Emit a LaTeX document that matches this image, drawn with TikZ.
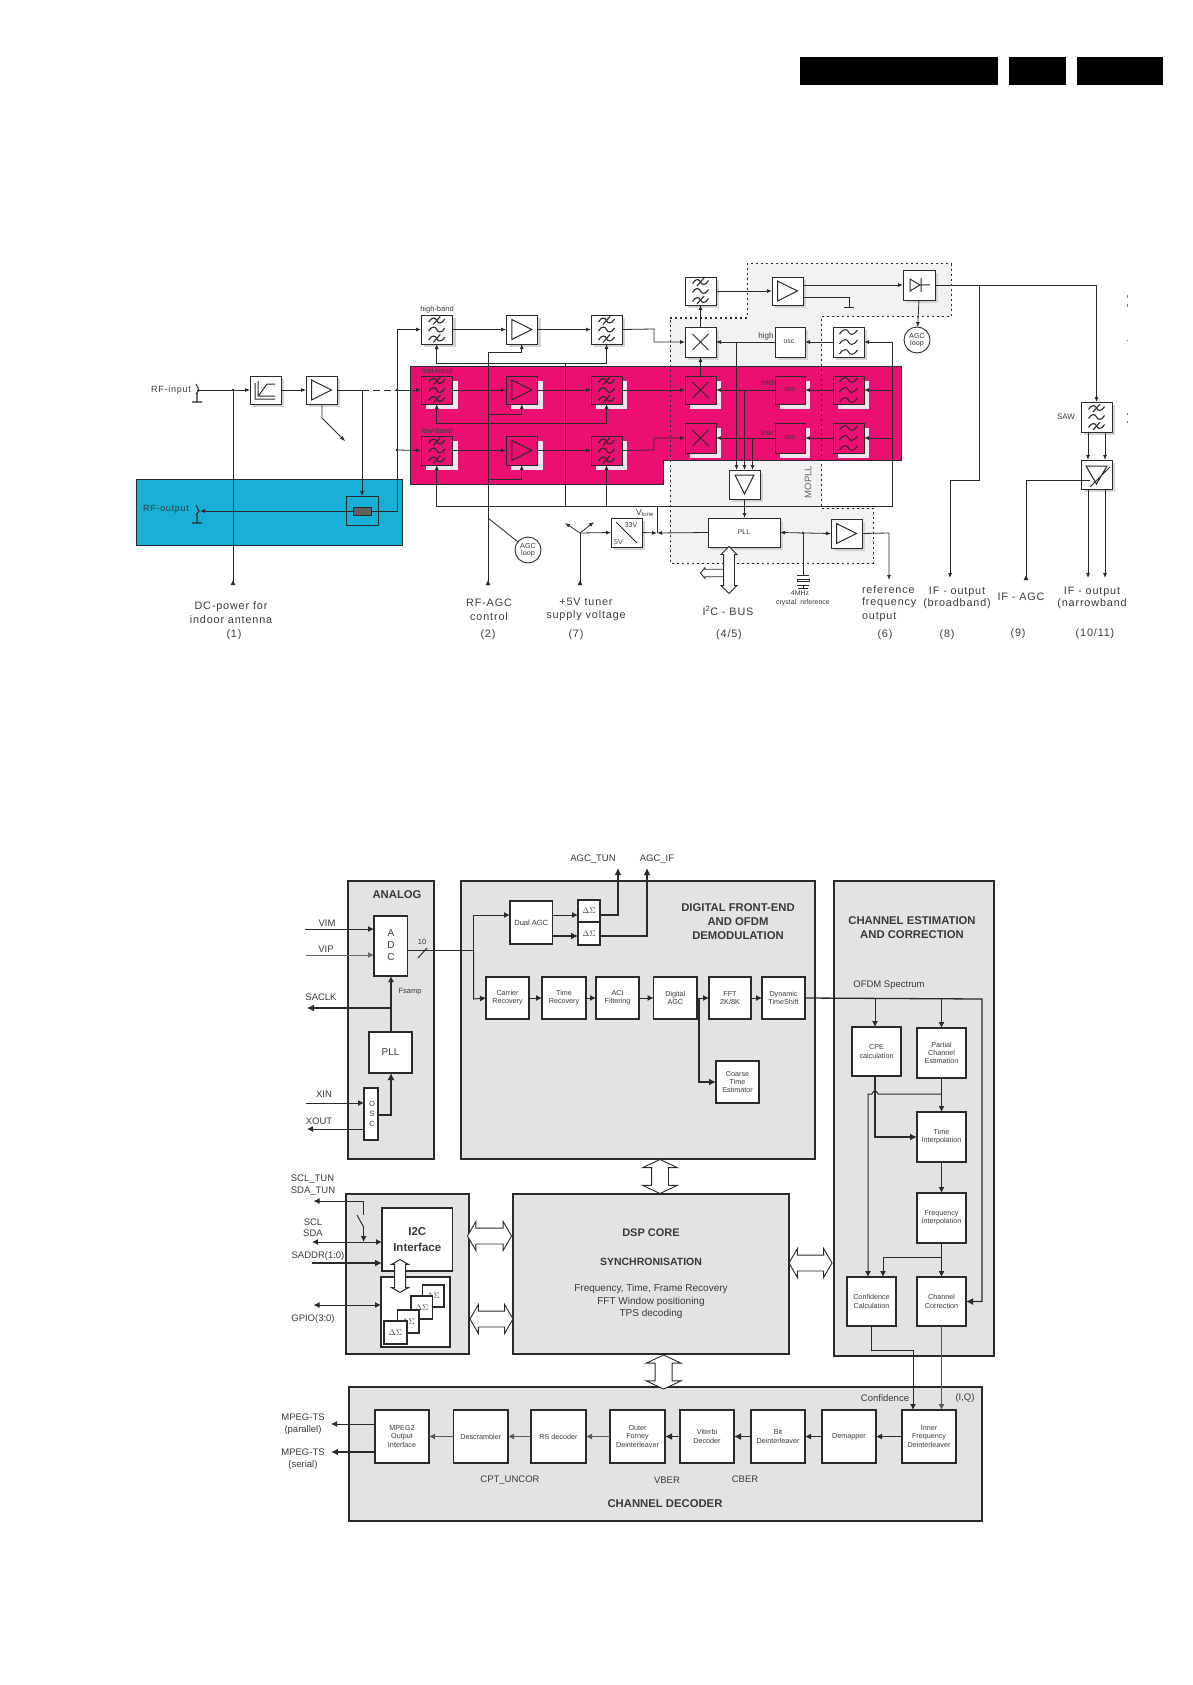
\documentclass[tikz,border=0pt]{standalone}
\usepackage{fontspec}
\setmainfont{Liberation Sans}
\newfontfamily\widefont[LetterSpace=8]{Liberation Sans}
\usetikzlibrary{arrows.meta,shapes.arrows,shadows,calc}
\definecolor{ink}{HTML}{2A2A2A}
\definecolor{txt}{HTML}{3A3A3A}
\definecolor{hot}{HTML}{EA0F70}
\definecolor{sky}{HTML}{17AFD6}
\definecolor{pale}{HTML}{F1F2F3}
\definecolor{panel}{HTML}{E1E3E5}
\definecolor{shadeA}{HTML}{D4D4D6}
\definecolor{shadeB}{HTML}{EDE4EC}
\newcommand\bx[7]{\node[#6,minimum width={(#4-(#2))*1pt},minimum height={(#5-(#3))*1pt}] (#1) at ({(#2+#4)/2},{(#3+#5)/2}) {#7};}
\newcommand\fs[1]{\fontsize{#1}{#1}\selectfont}
\tikzset{
 x=1pt,y=-1pt,
 every node/.style={inner sep=0pt,outer sep=0pt,text=txt},
 ln/.style={draw=ink,line width=.8pt},
 ar/.style={ln,-{Latex[length=5pt,width=4pt]}},
 arb/.style={ln,{Latex[length=5pt,width=4pt]}-{Latex[length=5pt,width=4pt]}},
 tipup/.style={ln,-{Latex[length=5pt,width=5pt,reversed]}},
 tbox/.style={draw=ink,line width=.9pt,fill=white,align=center,font=\fs{7},drop shadow={shadow xshift=3pt,shadow yshift=-3pt,fill=shadeA,opacity=1}},
 pbox/.style={draw=ink,line width=.9pt,fill=hot,align=center,font=\fs{7},drop shadow={shadow xshift=5pt,shadow yshift=-5pt,fill=shadeB,opacity=1}},
 lab/.style={font=\widefont\fs{10.8},align=center},
 small/.style={font=\fs{7},align=center},
 panelbox/.style={draw=ink,line width=1.5pt,fill=panel},
 wb/.style={draw=ink,line width=1.2pt,fill=white,align=center,font=\fs{7.2}},
 wbt/.style={wb,line width=1.7pt},
 capt/.style={font=\fs{9.5},align=center},
 headb/.style={font=\bfseries\fs{11.3},align=center},
 bl/.style={draw=ink,line width=1pt,-{Latex[length=6pt,width=6pt]}},
 blb/.style={draw=ink,line width=1pt,{Latex[length=6pt,width=6pt]}-{Latex[length=6pt,width=6pt]}},
 blk/.style={draw=ink,line width=1.8pt,-{Latex[length=7pt,width=7pt]}},
 bn/.style={draw=ink,line width=1pt},
 hollow/.style={double arrow,draw=ink,fill=white,line width=.9pt,inner ysep=7.5pt,inner xsep=0pt,double arrow head extend=6.5pt,double arrow tip angle=120},
 hollowv/.style={double arrow,draw=ink,fill=white,line width=.9pt,inner ysep=8pt,inner xsep=0pt,double arrow head extend=9pt,double arrow tip angle=130,rotate=90},
 filtx/.pic={
  \foreach \q/\s in {-9/1,0/0,9/1}{
   \draw[ink,line width=1.1pt] (-8,\q+1.5) .. controls (-5,\q-4) and (-1,\q-3) .. (0,\q) .. controls (1,\q+3) and (5,\q+4) .. (8,\q-1.5);
   \ifnum\s=1 \draw[ink,line width=1.1pt] (-3.5,\q+4) -- (3.5,\q-4);\fi
  }},
 filtt/.pic={
  \foreach \q in {-10,0,10}{
   \draw[ink,line width=1pt] (-9,\q+2) .. controls (-5,\q-4) and (-1,\q-3) .. (0,\q) .. controls (1,\q+3) and (5,\q+4) .. (9,\q-2);
  }},
 ampR/.pic={\draw[ink,line width=1pt] (-10,-10) -- (10,0) -- (-10,10) -- cycle;},
 cross/.pic={\draw[ink,line width=1pt] (-8,-8) -- (8,8) (-8,8) -- (8,-8);},
 conn/.pic={\draw[ink,line width=1.1pt] (-1,-6) -- (2,0) -- (-1,4) (0,3) -- (0,12) (-5,12) -- (5,12);},
 dot/.pic={\fill[ink] (0,0) circle (1.3);},
}
\begin{document}
\begin{tikzpicture}
\useasboundingbox (0,0) rectangle (1192,1685);
\fill[white] (0,0) rectangle (1192,1685);
% header bars
\fill[black] (800,57) rectangle (998,85);
\fill[black] (1009,57) rectangle (1066,85);
\fill[black] (1077,57) rectangle (1163,85);

% ---------- TUNER ----------
\fill[pale] (670,318) -- (747,318) -- (747,264) -- (951,264) -- (951,317) -- (821,317) -- (821,508) -- (873,508) -- (873,563) -- (670,563) -- cycle;
\fill[sky] (136,479) rectangle (402,545);
\draw[ink,line width=.8pt] (136,479) rectangle (402,545);
\fill[hot] (410,366) -- (901,366) -- (901,460) -- (663,460) -- (663,484) -- (410,484) -- cycle;
\draw[ink,line width=.8pt] (410,366) -- (901,366) -- (901,460) -- (663,460) -- (663,484) -- (410,484) -- cycle;
\draw[ink,line width=1pt,dash pattern=on 2pt off 3pt] (670,318) -- (747,318) -- (747,264) -- (951,264) -- (951,317) -- (821,317) -- (821,508) -- (873,508) -- (873,563) -- (670,563) -- cycle;

% boxes
\bx{lim}{250}{376}{281}{404}{tbox}{}
\bx{ampin}{306}{376}{337}{404}{tbox}{}
\bx{coup}{346}{496}{378}{525}{draw=ink,line width=.9pt}{}
\bx{coupin}{353}{507}{371}{515}{draw=ink,line width=.8pt,fill=gray!75!black}{}
\foreach \nm/\xa/\xb/\typ in {fa/421/452.5/f,am/506/537.5/a,fc/591/622/f}{
  \bx{\nm h}{\xa}{315}{\xb}{344}{tbox}{}
  \bx{\nm m}{\xa}{376}{\xb}{404}{pbox}{}
  \bx{\nm l}{\xa}{436}{\xb}{465}{pbox}{}
}
\foreach \nm in {fah,fam,fal,fch,fcm,fcl}{\pic at (\nm) {filtx};}
\foreach \nm in {amh,amm,aml}{\pic at (\nm) {ampR};}
\pic at (ampin) {ampR};
\draw[ink,line width=1pt] (255,383) -- (255,399) -- (275,399) (259,395) -- (267,384) -- (275,384) (258,381) -- (258,396) -- (275,396);
\bx{xh}{685}{327}{716}{357}{tbox}{}
\bx{xm}{685}{376}{716}{404}{pbox}{}
\bx{xl}{685}{423}{716}{453}{pbox}{}
\foreach \nm in {xh,xm,xl}{\pic at (\nm) {cross};}
\bx{ftop}{685}{277}{716}{305}{tbox}{}
\pic at (ftop) {filtx};
\bx{ampt}{772}{277}{803}{305}{tbox}{}
\pic at (ampt) {ampR};
\bx{diode}{903}{270}{935}{300}{tbox}{}
\draw[ink,line width=1pt] (910,279) -- (920,285) -- (910,291) -- cycle (921,278) -- (921,292) (921,285) -- (930,285);
\bx{osch}{775}{327}{805}{357}{tbox}{osc.}
\bx{oscm}{775}{376}{805}{404}{pbox}{osc}
\bx{oscl}{775}{423}{805}{453}{pbox}{osc}
\bx{tfh}{833}{327}{864}{357}{tbox}{}
\bx{tfm}{833}{376}{864}{404}{pbox}{}
\bx{tfl}{833}{423}{864}{453}{pbox}{}
\foreach \nm in {tfh,tfm,tfl}{\pic at (\nm) {filtt};}
\bx{saw}{1081}{402}{1112}{432}{tbox}{}
\pic at (saw) {filtx};
\bx{vga}{1081}{460}{1112}{489}{tbox}{}
\draw[ink,line width=1pt] (1086,466) -- (1107,466) -- (1096.5,484) -- cycle (1090,487) -- (1110,467);
\bx{tri}{729}{470}{760}{499}{tbox}{}
\draw[ink,line width=1pt] (735,475) -- (754,475) -- (744.5,494) -- cycle;
\bx{pll}{708}{518}{780}{547}{tbox}{PLL}
\bx{ampref}{831}{519}{862}{548}{tbox}{}
\pic at (ampref) {ampR};
\bx{conv}{611}{518}{642}{547}{tbox}{}
\draw[ink,line width=1pt] (616,522) -- (637,543);
\node[small] (t33) at (631,525) {33V};
\node[small] (t5) at (618.5,542) {5V};
\node[draw=ink,line width=.9pt,circle,minimum size=26pt,fill=white,align=center,font=\fs{7.2}] (loopa) at (528,550) {AGC\\[0pt]loop};
\node[draw=ink,line width=.9pt,circle,minimum size=26pt,fill=white,align=center,font=\fs{7.2}] (loopb) at (917,340) {AGC\\[0pt]loop};

% input chain
\coordinate (rfin) at (197,390);
\coordinate (j1) at (233,390);
\coordinate (dcend) at (233,585);
\coordinate (tap) at (362,390);
\coordinate (dash) at (397,390);
\coordinate (bus) at (397,511);
\coordinate (rfout) at (200,511);
\pic at (rfin) {conn};
\pic at (197,511) {conn};
\draw[ar] (rfin) -- (lim.west);
\draw[ar] (lim.east) -- (ampin.west);
\draw[ln] (ampin.east) -- (tap);
\draw[ln,dash pattern=on 7pt off 4pt] (tap) -- (dash);
\draw[ar] (dash) -- (fam.west);
\draw[ar] (tap) -- (coup.north);
\draw[tipup] (j1) -- (dcend);
\pic at (j1) {dot};
\pic at (dash) {dot};
\draw[ar] (coupin.west) -- (rfout);
\draw[ar] (coupin.east) -- (bus) |- (fah.west);
\coordinate (busl) at (397,450);
\draw[ar] (busl) -- (fal.west);
\pic at (busl) {dot};
\coordinate (tapA) at (322,404);
\coordinate (tapB) at (322,418);
\coordinate (tapC) at (345,441);
\draw[ar] (tapA) -- (tapB) -- (tapC);
% rows
\foreach \r in {h,m,l}{
  \draw[ar] (fa\r.east) -- (am\r.west);
  \draw[ar] (am\r.east) -- (fc\r.west);
}
\coordinate (kh) at (654,329);
\coordinate (kl) at (654,450);
\coordinate (kh2) at (654,342);
\coordinate (kl2) at (654,438);
\draw[ar] (fch.east) -- (kh) -- (kh2) -- (xh.west);
\draw[ar] (fcm.east) -- (xm.west);
\draw[ar] (fcl.east) -- (kl) -- (kl2) -- (xl.west);
% tuning lines
\coordinate (cth) at (565,363);
\coordinate (ctm) at (565,423);
\coordinate (ctl) at (565,506);
\draw[ln] (cth) -- (ctl);
\draw[ar] (cth) -| (fah.south);
\draw[ar] (cth) -| (fch.south);
\draw[ar] (ctm) -| (fam.south);
\draw[ar] (ctm) -| (fcm.south);
\draw[ar] (ctl) -| (fal.south);
\draw[ar] (ctl) -| (fcl.south);
\coordinate (tur) at (892,506);
\coordinate (tuh) at (892,342);
\coordinate (tum) at (892,390);
\coordinate (tul) at (892,438);
\draw[ar] (ctl) -- (tur) -- (tuh) -- (tfh.east);
\draw[ar] (tum) -- (tfm.east);
\draw[ar] (tul) -- (tfl.east);
\foreach \r in {h,m,l}{
  \draw[ar] (tf\r.west) -- (osc\r.east);
  \draw[ar] (osc\r.west) -- (x\r.east);
}
% rf agc
\coordinate (agcb) at (488,585);
\coordinate (agct) at (488,352);
\coordinate (agcm) at (488,414);
\coordinate (agcl) at (488,479);
\coordinate (agcj) at (488,518);
\draw[tipup] (agct) -- (agcb);
\draw[ar] (agct) -| (amh.south);
\draw[ar] (agcm) -| (amm.south);
\draw[ar] (agcl) -| (aml.south);
\draw[ln] (agcj) -- (loopa);
% 5V
\coordinate (yb) at (580,585);
\coordinate (yc) at (580,533);
\coordinate (ya) at (565,523);
\coordinate (yd) at (594,522);
\draw[tipup] (yc) -- (yb);
\draw[ar] (yc) -- (ya);
\draw[ar] (yc) -- (yd);
\draw[ar] (yc) -- (conv.west);
\coordinate (vt) at (657,533);
\coordinate (vtt) at (657,506);
\draw[ln] (vt) -- (vtt);
\draw[ar] (conv.east) -- (vt);
\draw[ar] (pll.west) -- (vt);
% mixer chain
\draw[ar] (xm.north) -- (xh.south);
\draw[ar] (xh.north) -- (ftop.south);
\draw[ar] (ftop.east) -- (ampt.west);
\coordinate (ao) at (803,285);
\coordinate (ag) at (803,297);
\coordinate (ag2) at (849,297);
\coordinate (ag3) at (849,307);
\coordinate (ag4) at (844,307);
\coordinate (ag5) at (854,307);
\draw[ar] (ao) -- (diode.west);
\draw[ln] (ag) -- (ag2) -- (ag3) (ag4) -- (ag5);
\draw[ar] (diode.south) -- (loopb);
\coordinate (ifr) at (1096.5,285);
\coordinate (ifj) at (979,285);
\coordinate (ifk) at (979,480);
\coordinate (ifl) at (950,480);
\coordinate (ife) at (950,578);
\draw[ar] (diode.east) -- (ifr) -- (saw.north);
\draw[ar] (ifj) -- (ifk) -- (ifl) -- (ife);
% triangle inputs
\foreach \cx/\cy/\n in {736.5/342/a,744.5/390/b,752.5/438/c}{
  \coordinate (ti\n) at (\cx,\cy);
  \coordinate (te\n) at (\cx,470);
  \draw[ar] (ti\n) -- (te\n);
}
\draw[ar] (tri.south) -- (tri.south |- pll.north);
\draw[arb] (pll.east) -- (ampref.west);
\coordinate (xj) at (803,533);
\coordinate (xc) at (803,575);
\pic at (xj) {dot};
\draw[ln] (xj) -- (xc);
\draw[ink,line width=.9pt] (797,575) -- (809,575) (797,579) rectangle (809,581) (797,585) -- (809,585) (803,585) -- (803,588) (798,588) -- (808,588);
\coordinate (rf1) at (889,533);
\coordinate (rf2) at (889,580);
\draw[ar] (ampref.east) -- (rf1) -- (rf2);
% VGA
\coordinate (s1) at (1088,432); \coordinate (s2) at (1088,460);
\coordinate (s3) at (1105,432); \coordinate (s4) at (1105,460);
\coordinate (s5) at (1088,489); \coordinate (s6) at (1088,578);
\coordinate (s7) at (1105,489); \coordinate (s8) at (1105,578);
\draw[ar] (s1) -- (s2); \draw[ar] (s3) -- (s4);
\draw[ar] (s5) -- (s6); \draw[ar] (s7) -- (s8);
\coordinate (ia) at (1090,480);
\coordinate (ib) at (1026,480);
\coordinate (ic) at (1026,580);
\draw[tipup] (ia) -- (ib) -- (ic);
% I2C bus
\node[single arrow,draw=ink,fill=white,line width=.9pt,inner ysep=3.3pt,inner xsep=0pt,minimum height=28pt,single arrow head extend=1.7pt,single arrow tip angle=100,rotate=180] (i2cs) at (716,573) {};
\node[double arrow,draw=ink,fill=white,line width=.9pt,inner ysep=5pt,inner xsep=0pt,minimum height=47pt,double arrow head extend=2.5pt,double arrow tip angle=90,rotate=90] (i2cb) at (729,570) {};
% tuner labels
\node[small,font=\fs{7.5}] (lhb) at (437,310) {high-band};
\node[small,font=\fs{7.5}] (lmb) at (437,371) {mid-band};
\node[small,font=\fs{7.5}] (llb) at (437,431) {low-band};
\node[lab,font=\widefont\fs{9}] (lri) at (171,390) {RF-input};
\node[lab,font=\widefont\fs{9}] (lro) at (166,509) {RF-output};
\node[small,font=\fs{8}] (lh) at (766,336) {high};
\node[small,font=\fs{8}] (lm) at (767,383) {mid};
\node[small,font=\fs{8}] (ll) at (767,433) {low};
\node[small,font=\fs{8}] (lsaw) at (1066,417) {SAW};
\node[small,font=\fs{8.5}] (lvt) at (645,513) {V\textsubscript{tune}};
\node[small,font=\fs{9.5},rotate=90,text=gray!80!black] (lmo) at (808,482) {MOPLL};
\node[small] (l4a) at (800,593) {4MHz};
\node[small] (l4b) at (803,603) {crystal\ \ reference};
\node[lab] (ldc) at (231,612.5) {DC-power for\\[3pt]indoor antenna};
\node[lab] (l1) at (234,635) {(1)};
\node[lab] (lagc) at (489,609.5) {RF-AGC\\[3pt]control};
\node[lab] (l2) at (488,635) {(2)};
\node[lab] (l5v) at (586,609.5) {+5V tuner\\[3pt]supply voltage};
\node[lab] (l7) at (576,635) {(7)};
\node[lab] (li2c) at (728,611) {I\textsuperscript{2}C - BUS};
\node[lab] (l45) at (729,635) {(4/5)};
\node[lab,align=left,anchor=west] (lref) at (862,604) {reference\\[1pt]frequency\\[3pt]output};
\node[lab] (l6) at (885,635) {(6)};
\node[lab] (lifb) at (957,597.5) {IF - output\\[1pt](broadband)};
\node[lab] (l8) at (947,635) {(8)};
\node[lab] (lifa) at (1021,597) {IF - AGC};
\node[lab] (l9) at (1018,634) {(9)};
\node[lab] (lifn) at (1092,597.5) {IF - output\\[1pt](narrowband};
\node[lab] (l10) at (1095,634) {(10/11)};
\draw[gray,line width=.7pt] (1127,295) -- (1127,298) (1127,304) -- (1127,307) (1127,340) -- (1127,341) (1127,413) -- (1127,415) (1127,421) -- (1127,423);

% ---------- DEMOD ----------
\bx{pana}{348}{881}{434}{1159}{panelbox}{}
\bx{pdf}{461}{881}{815}{1159}{panelbox}{}
\bx{pch}{834}{881}{994}{1356}{panelbox}{}
\bx{pi2c}{346}{1194}{469}{1354}{panelbox}{}
\bx{pdsp}{513}{1194}{789}{1354}{panelbox}{}
\bx{pdec}{349}{1387}{982}{1521}{panelbox}{}
\node[headb] (hana) at (397,895) {ANALOG};
\node[headb] (hdf) at (738,921.5) {DIGITAL FRONT-END\\[3pt]AND OFDM\\[3pt]DEMODULATION};
\node[headb] (hch) at (912,927.5) {CHANNEL ESTIMATION\\[3pt]AND CORRECTION};
\node[headb] (hdc) at (665,1504) {CHANNEL DECODER};
\node[capt] (cofdm) at (889,985) {OFDM Spectrum};
% analog
\bx{adc}{374}{916}{407.5}{976}{wb}{}
\node[font=\fs{10}] (ta) at (391,933) {A};
\node[font=\fs{10}] (td) at (391,945) {D};
\node[font=\fs{10}] (tc) at (391,957) {C};
\bx{apll}{369}{1032}{412}{1073}{wb,font=\fs{10}}{PLL}
\bx{osc}{364}{1088}{378}{1140}{wb}{}
\node[font=\fs{7.5}] (to) at (372,1104) {O};
\node[font=\fs{7.5}] (ts) at (372,1114) {S};
\node[font=\fs{7.5}] (tc2) at (372,1124) {C};
\node[capt] (cvim) at (327,923) {VIM};
\node[capt] (cvip) at (326,949) {VIP};
\node[capt] (csa) at (321,997) {SACLK};
\node[capt] (cxi) at (324,1094) {XIN};
\node[capt] (cxo) at (319,1121) {XOUT};
\node[font=\fs{7.5}] (cfs) at (410,992) {Fsamp};
\node[font=\fs{7.5}] (c10) at (422,942) {10};
\coordinate (vim) at (305,929); \coordinate (vima) at (374,929);
\coordinate (vip) at (306,955); \coordinate (vipa) at (374,955);
\draw[bl] (vim) -- (vima);
\draw[bl,draw=gray!80!black] (vip) -- (vipa);
\coordinate (adco) at (407.5,950);
\coordinate (spl) at (473.6,950);
\coordinate (s10a) at (418,958); \coordinate (s10b) at (427,948);
\draw[bn] (s10a) -- (s10b);
\coordinate (sacj) at (391,1008); \coordinate (sace) at (307,1008);
\draw[bl,line width=1.3pt] (apll.north -| sacj) -- (adc.south -| sacj);
\draw[blk] (sacj) -- (sace);
\coordinate (oscr) at (378,1115);
\coordinate (oscu) at (391,1115);
\draw[blk] (oscr) -- (oscu) -- (apll.south -| oscu);
\coordinate (xi) at (306,1103); \coordinate (xia) at (364,1103);
\coordinate (xoa) at (364,1129); \coordinate (xo) at (307,1129);
\draw[bl] (xi) -- (xia);
\draw[bl] (xoa) -- (xo);
% dfe
\bx{dagc}{510}{901}{552.5}{944}{wb,font=\fs{7.5}}{Dual AGC}
\bx{dsa}{578}{900}{600}{922}{wb,font=\fs{8}}{$\Delta\Sigma$}
\bx{dsb}{578}{922}{600}{945}{wb,font=\fs{8}}{$\Delta\Sigma$}
\foreach \nm/\xa/\xb/\tx in {bcr/486/529/{Carrier\\[1pt]Recovery},btr/542/586/{Time\\[1pt]Recovery},baf/596/639/{ACI\\[1pt]Filtering},bda/653.6/697/{Digital\\[1pt]AGC},bfft/709/751/{FFT\\[1pt]2K/8K},bdyn/762/805/{Dynamic\\[1pt]TimeShift}}{
  \bx{\nm}{\xa}{977}{\xb}{1019}{wb,line width=1.4pt}{\tx}
}
\bx{bct}{716}{1061}{759}{1103}{wb,line width=1.4pt}{Coarse\\[1pt]Time\\[1pt]Estimator}
\draw[bn] (adco) -- (spl);
\coordinate (spt) at (473.6,915);
\coordinate (spb) at (473.6,999);
\coordinate (dagcw) at (510,915);
\draw[bl] (spl) -- (spt) -- (dagcw);
\draw[bl] (spl) -- (spb) -- (bcr.west);
\draw[bl] (bcr.east) -- (btr.west);
\draw[bl] (btr.east) -- (baf.west);
\draw[bl] (baf.east) -- (bda.west);
\draw[bl] (bda.east) -- (bfft.west);
\draw[bl] (bfft.east) -- (bdyn.west);
\coordinate (ctj) at (699,999);
\coordinate (ctb) at (699,1082);
\draw[blk,line width=1.3pt] (ctj) -- (ctb) -- (bct.west);
\coordinate (da1) at (552.5,915); \coordinate (da1e) at (578,915);
\coordinate (da2) at (552.5,936); \coordinate (da2e) at (578,936);
\draw[bl] (da1) -- (da1e);
\draw[blk] (da2) -- (da2e);
\coordinate (ds1) at (600,915); \coordinate (ds1k) at (618,915); \coordinate (tun) at (618,868);
\coordinate (ds2) at (600,936); \coordinate (ds2k) at (647,936); \coordinate (ifa) at (647,868);
\draw[blk] (ds1) -- (ds1k) -- (tun);
\draw[blk] (ds2) -- (ds2k) -- (ifa);
\node[capt] (cat) at (593,859) {AGC\_TUN};
\node[capt] (cai) at (657,859) {AGC\_IF};
% channel
\bx{bcpe}{852}{1027}{901}{1076}{wbt}{CPE\\[1pt]calculation}
\bx{bpc}{917}{1028}{966}{1078}{wb}{Partial\\[1pt]Channel\\[1pt]Estimation}
\bx{bti}{917}{1112}{966}{1162}{wb}{Time\\[1pt]Interpolation}
\bx{bfi}{917}{1193}{966}{1243}{wb}{Frequency\\[1pt]Interpolation}
\bx{bcc}{847}{1277}{896}{1326}{wbt}{Confidence\\[1pt]Calculation}
\bx{bco}{917}{1277}{966}{1326}{wbt}{Channel\\[1pt]Correction}
\coordinate (sp1) at (982,999);
\coordinate (sp2) at (982,1301.5);
\draw[blk,line width=1.3pt] (bdyn.east) -- (sp1) -- (sp2) -- (bco.east);
\coordinate (ofa) at (875,999); \coordinate (ofb) at (941.5,999);
\draw[bl] (ofa) -- (bcpe.north -| ofa);
\draw[bl] (ofb) -- (bpc.north);
\draw[bl,line width=1.3pt] (bpc.south) -- (bti.north);
\draw[bl,line width=1.3pt] (bti.south) -- (bfi.north);
\draw[bl] (bfi.south) -- (bco.north);
\coordinate (ctk) at (875,1137);
\draw[blk,line width=1.5pt] (bcpe.south -| ctk) -- (ctk) -- (bti.west);
\coordinate (cfa) at (941.5,1094);
\coordinate (cfb) at (868,1094);
\coordinate (cfc) at (868,1277);
\draw[bl] (cfa) -- (878,1094) .. controls (877,1090) and (873,1090) .. (872,1094) -- (cfb) -- (cfc);
\coordinate (fb1) at (941.5,1257);
\coordinate (fb2) at (883,1257);
\coordinate (fb3) at (883,1277);
\draw[bl] (fb1) -- (fb2) -- (fb3);
% i2c
\bx{bi2c}{382}{1208}{452.5}{1271}{wbt,font=\bfseries\fs{11.5}}{I2C\\[4pt]Interface}
\bx{binn}{381}{1277}{450}{1347}{wbt}{}
\bx{d4}{422.5}{1285}{444}{1307}{wb,line width=1.5pt,font=\fs{8}}{$\Delta\Sigma$}
\bx{d3}{411}{1296}{432.5}{1319}{wb,line width=1.5pt,font=\fs{8}}{$\Delta\Sigma$}
\bx{d2}{397.5}{1310}{419}{1333}{wb,line width=1.5pt,font=\fs{8}}{$\Delta\Sigma$}
\bx{d1}{383.6}{1321}{407}{1344}{wb,line width=1.8pt,font=\fs{8}}{$\Delta\Sigma$}
\node[double arrow,draw=ink,fill=white,line width=1pt,inner ysep=5pt,inner xsep=0pt,minimum height=33pt,double arrow head extend=3pt,double arrow tip angle=120,rotate=90] (hi2) at (400,1276) {};
\node[capt,align=left] (cs1) at (313,1185) {SCL\_TUN\\[2pt]SDA\_TUN};
\node[capt] (cs2) at (313,1227.5) {SCL\\[1.5pt]SDA};
\node[capt] (cs3) at (318,1256) {SADDR(1:0)};
\node[capt] (cs4) at (313,1319) {GPIO(3:0)};
\coordinate (scj) at (363.6,1201); \coordinate (sce) at (313.6,1201);
\coordinate (sw1) at (363.6,1215); \coordinate (sw0) at (357,1215);
\coordinate (sw2) at (363.6,1227); \coordinate (sw3) at (363.6,1242);
\draw[bl] (sw1) -- (scj) -- (sce);
\draw[bn] (sw0) -- (sw2);
\draw[bl] (sw2) -- (sw3);
\coordinate (sda) at (312,1242); \coordinate (sdae) at (382,1242);
\draw[blb] (sda) -- (sdae);
\coordinate (sad) at (312,1263); \coordinate (sade) at (382,1263);
\draw[blk,line width=2.4pt] (sad) -- (sade);
\coordinate (gp) at (313.6,1305); \coordinate (gpe) at (381,1305);
\draw[blb] (gp) -- (gpe);
% hollow
\node[hollow,minimum height=44pt] (hh1) at (489.5,1236) {};
\node[hollow,minimum height=43pt] (hh2) at (491.5,1319) {};
\node[hollow,minimum height=43pt] (hh3) at (810.5,1263) {};
\node[hollowv,minimum height=34pt] (hv1) at (660,1176.5) {};
\node[hollowv,minimum height=34pt] (hv2) at (663.6,1372) {};
% dsp
\node[font=\bfseries\fs{11}] (tdsp) at (651,1233) {DSP CORE};
\node[font=\bfseries\fs{10.5}] (tsy) at (651,1262) {SYNCHRONISATION};
\node[font=\fs{10},align=center] (tfr) at (651,1301.5) {Frequency, Time, Frame Recovery\\[2.5pt]FFT Window positioning\\[2.5pt]TPS decoding};
% decoder
\foreach \nm/\xa/\xb/\tx in {bmp/375/429/{MPEG2\\[1pt]Output\\[1pt]Interface},bds/453.6/508/Descrambler,brs/531/586/RS decoder,bof/610/665/{Outer\\[1pt]Forney\\[1pt]Deinterleaver},bvi/680/734/{Viterbi\\[1pt]Decoder},bbi/751/805/{Bit\\[1pt]Deinterleaver},bdm/822/876/Demapper,bif/902/956/{Inner\\[1pt]Frequency\\[1pt]Deinterleaver}}{
  \bx{\nm}{\xa}{1410}{\xb}{1463}{wb}{\tx}
}
\draw[bl] (bif.west) -- (bdm.east);
\draw[bl] (bdm.west) -- (bbi.east);
\draw[blk,line width=1.4pt] (bbi.west) -- (bvi.east);
\draw[blk,line width=1.4pt] (bvi.west) -- (bof.east);
\draw[bl,draw=gray!70!black] (bof.west) -- (brs.east);
\draw[bl,draw=gray!70!black] (brs.west) -- (bds.east);
\draw[bl,draw=gray!70!black] (bds.west) -- (bmp.east);
\coordinate (mp1) at (375,1424); \coordinate (mp1e) at (331,1424);
\coordinate (mp2) at (375,1452); \coordinate (mp2e) at (331,1452);
\draw[bl] (mp1) -- (mp1e);
\draw[blk] (mp2) -- (mp2e);
\node[capt] (cm1) at (303,1424) {MPEG-TS\\[2pt](parallel)};
\node[capt] (cm2) at (303,1459) {MPEG-TS\\[2pt](serial)};
\node[capt] (ccp) at (510,1480) {CPT\_UNCOR};
\node[capt] (cvb) at (667,1480) {VBER};
\node[capt] (ccb) at (745,1479) {CBER};
\node[capt] (ccf) at (885,1398) {Confidence};
\node[capt] (ciq) at (965,1398) {(I,Q)};
\coordinate (cl1) at (871.5,1326); \coordinate (cl2) at (871.5,1350);
\coordinate (cl3) at (913,1350); \coordinate (cl4) at (913,1410);
\draw[bl] (cl1) -- (cl2) -- (cl3) -- (cl4);
\coordinate (co1) at (941.5,1326); \coordinate (co2) at (941.5,1410);
\draw[bl,draw=gray!70!black] (co1) -- (co2);
\end{tikzpicture}
\end{document}
